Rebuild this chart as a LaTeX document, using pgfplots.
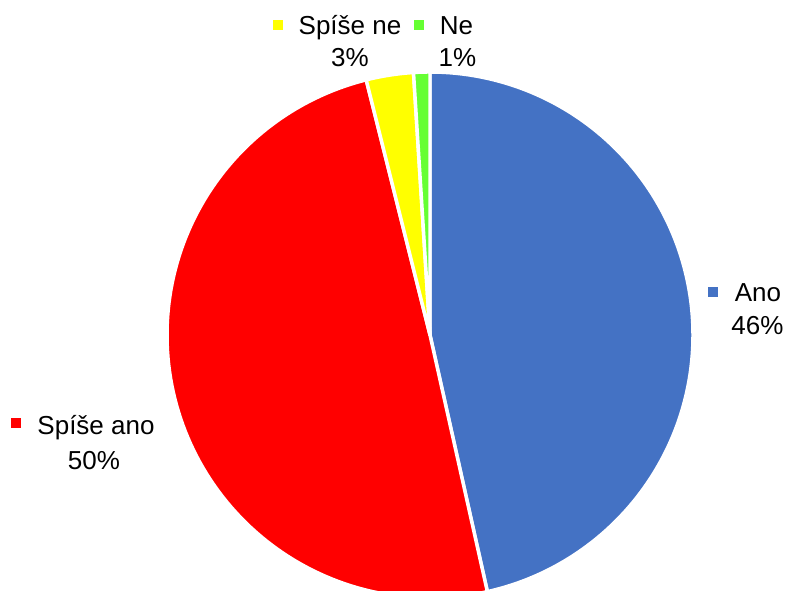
\documentclass[border=0pt]{standalone}
\usepackage{pgfplots}
\pgfplotsset{compat=1.18}
\usepackage{fontspec}
\setmainfont{Liberation Sans}
\definecolor{cAno}{HTML}{4472C4}
\definecolor{cSpAno}{HTML}{FF0000}
\definecolor{cSpNe}{HTML}{FFFF00}
\definecolor{cNe}{HTML}{66FF33}
\begin{document}
\begin{tikzpicture}
% shares in percent, clockwise from 12 o'clock
\pgfmathsetmacro{\vA}{46.5}% Ano
\pgfmathsetmacro{\vB}{49.6}% Spise ano
\pgfmathsetmacro{\vC}{2.9}% Spise ne
\pgfmathsetmacro{\vD}{1.0}% Ne
\pgfmathsetmacro{\aA}{90-3.6*\vA}
\pgfmathsetmacro{\aB}{90-3.6*(\vA+\vB)}
\pgfmathsetmacro{\aC}{90-3.6*(\vA+\vB+\vC)}
\pgfmathsetmacro{\aD}{90-3.6*(\vA+\vB+\vC+\vD)}
\begin{axis}[scale only axis, width=590.25pt, height=443.25pt,
  xmin=0, xmax=787, ymin=-591, ymax=0, hide axis, clip=true]
\addplot[fill=cAno, draw=white, line width=2.6pt, line join=round, domain=\aA:90, samples=120]
  ({430+263*cos(x)},{-335+263*sin(x)}) -- (axis cs:430,-335) -- cycle;
\addplot[fill=cSpAno, draw=white, line width=2.6pt, line join=round, domain=\aB:\aA, samples=120]
  ({430+263*cos(x)},{-335+263*sin(x)}) -- (axis cs:430,-335) -- cycle;
\addplot[fill=cSpNe, draw=white, line width=2.6pt, line join=round, domain=\aC:\aB, samples=20]
  ({430+263*cos(x)},{-335+263*sin(x)}) -- (axis cs:430,-335) -- cycle;
\addplot[fill=cNe, draw=white, line width=2.6pt, line join=round, domain=\aD:\aC, samples=10]
  ({430+263*cos(x)},{-335+263*sin(x)}) -- (axis cs:430,-335) -- cycle;
% legend-like markers
\addplot[only marks, mark=square*, mark size=3.3pt, color=cAno] coordinates {(713,-292)};
\addplot[only marks, mark=square*, mark size=3.3pt, color=cSpAno] coordinates {(16,-422.5)};
\addplot[only marks, mark=square*, mark size=3.3pt, color=cSpNe] coordinates {(278,-25)};
\addplot[only marks, mark=square*, mark size=3.3pt, color=cNe] coordinates {(419,-25)};
% labels
\begin{scope}[every node/.style={anchor=base, inner sep=0pt, font=\fontsize{19.5}{24}\selectfont}]
\node at (axis cs:758,-301.7) {Ano};
\node at (axis cs:757.5,-335) {46\%};
\node at (axis cs:96,-435) {Spíše ano};
\node at (axis cs:94,-470) {50\%};
\node at (axis cs:350,-35) {Spíše ne};
\node at (axis cs:350,-66.7) {3\%};
\node at (axis cs:456.5,-35) {Ne};
\node at (axis cs:457.5,-66.7) {1\%};
\end{scope}
\end{axis}
\pgfresetboundingbox
\path (current axis.south west) rectangle (current axis.north east);
\end{tikzpicture}
\end{document}
